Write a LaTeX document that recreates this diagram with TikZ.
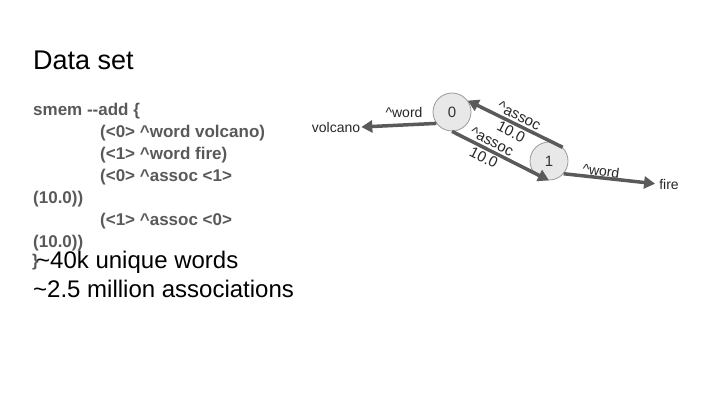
\documentclass[tikz,border=0pt]{standalone}
\usepackage{fontspec}
\setmainfont{Liberation Sans}
\usetikzlibrary{arrows.meta}
\definecolor{codegray}{HTML}{595959}
\definecolor{arrgray}{HTML}{5A5A5A}
\definecolor{nodefill}{HTML}{E8E8E8}
\definecolor{nodeline}{HTML}{9A9A9A}
\begin{document}
\begin{tikzpicture}[x=1pt,y=-1pt,
  txt/.style={inner sep=0pt, anchor=base west},
  code/.style={txt, text=codegray, font=\fontsize{17}{20}\selectfont\bfseries},
  big/.style={txt, text=black, font=\fontsize{24}{28}\selectfont},
  state/.style={circle, draw=nodeline, fill=nodefill, line width=0.8pt, minimum size=38pt, inner sep=0pt, font=\fontsize{15}{18}\selectfont, text=black!80},
  lbl/.style={font=\fontsize{14}{17}\selectfont, text=black!85, inner sep=1pt},
  elbl/.style={font=\fontsize{15}{18}\selectfont, text=black!85, inner sep=0pt, align=center},
  arr/.style={draw=arrgray, line width=3.5pt, -{Triangle[length=11pt,width=12pt]}},
]
\useasboundingbox (0,0) rectangle (720,405);
\node[txt, text=black, font=\fontsize{27}{32}\selectfont] (title) at (33,69) {Data set};
\node[code] (c1) at (33,115) {smem -{}-add \{};
\node[code] (c2) at (100,137) {(<0> \textasciicircum word volcano)};
\node[code] (c3) at (100,159) {(<1> \textasciicircum word fire)};
\node[code] (c4) at (100,181) {(<0> \textasciicircum assoc <1>};
\node[code] (c5) at (33,203) {(10.0))};
\node[code] (c6) at (100,225) {(<1> \textasciicircum assoc <0>};
\node[code] (c7) at (33,247) {(10.0))};
\node[code] (c8) at (32,266) {\}};
\node[big] (s1) at (36,268) {\textasciitilde 40k unique words};
\node[big] (s2) at (33,297) {\textasciitilde 2.5 million associations};

\node[state] (n0) at (452,112) {0};
\node[state] (n1) at (549,161) {1};
\node[lbl] (volcano) at (336,127) {volcano};
\node[lbl] (fire) at (669,184) {fire};

\draw[arr] (n0.216) -- (volcano.east);
\node[lbl] (w0) at (404,112) {\textasciicircum word};
\draw[arr, shorten >=3pt] (n1.319) -- (fire.west);
\node[lbl, rotate=-8] (w1) at (601,171) {\textasciicircum word};

\draw[arr] (n0.south) -- (n1.south)
  node[elbl, pos=0.37, rotate=-27] (a01) {\textasciicircum assoc\\10.0};
\draw[arr] (n1.45) -- (n0.36)
  node[elbl, midway, rotate=-27] (a10) {\textasciicircum assoc\\10.0};
\end{tikzpicture}
\end{document}
